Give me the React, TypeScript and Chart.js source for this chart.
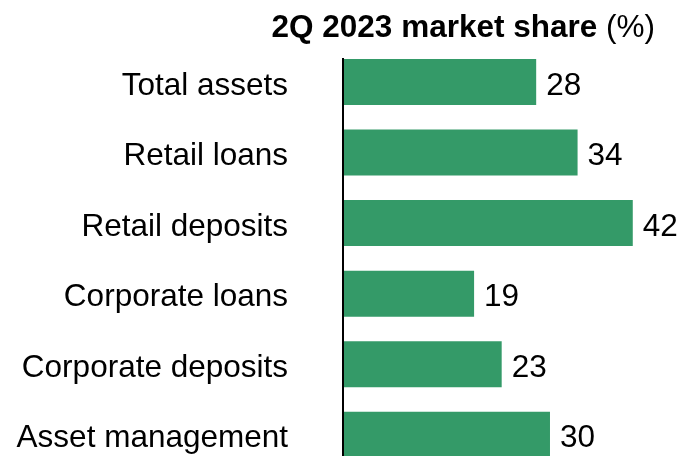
import React, { useEffect, useRef } from "react";
import { Chart, registerables } from "chart.js";

Chart.register(...registerables);

const categories = [
  "Total assets",
  "Retail loans",
  "Retail deposits",
  "Corporate loans",
  "Corporate deposits",
  "Asset management",
];
const shares = [28, 34, 42, 19, 23, 30];
const titleBold = "2Q 2023 market share";
const titleUnit = " (%)";

const FONT = "'Liberation Sans', Arial, sans-serif";
const FS = 31.5;
const BAR_COLOR = "#349a68";

export default function App() {
  const ref = useRef<HTMLCanvasElement | null>(null);

  useEffect(() => {
    if (!ref.current) return;
    const overlay = {
      id: "overlay",
      afterDatasetsDraw(chart: any) {
        const ctx = chart.ctx;
        const area = chart.chartArea;
        const yScale = chart.scales.y;
        ctx.save();
        // axis line
        ctx.strokeStyle = "#000";
        ctx.lineWidth = 2;
        ctx.beginPath();
        ctx.moveTo(area.left, 58);
        ctx.lineTo(area.left, chart.height);
        ctx.stroke();
        ctx.fillStyle = "#000";
        ctx.font = `${FS}px ${FONT}`;
        ctx.textBaseline = "alphabetic";
        // category labels
        ctx.textAlign = "right";
        categories.forEach((c, i) => {
          const y = yScale.getPixelForValue(i);
          ctx.fillText(c, area.left - 55, y + 12.5);
        });
        // value labels
        ctx.textAlign = "left";
        const meta = chart.getDatasetMeta(0);
        meta.data.forEach((bar: any, i: number) => {
          ctx.fillText(String(shares[i]), bar.x + 10, bar.y + 12.5);
        });
        // title
        ctx.font = `${FS}px ${FONT}`;
        const wUnit = ctx.measureText(titleUnit).width;
        const right = 655;
        ctx.textAlign = "right";
        ctx.fillText(titleUnit, right, 37);
        ctx.font = `bold ${FS}px ${FONT}`;
        ctx.fillText(titleBold, right - wUnit, 37);
        ctx.restore();
      },
    };

    const chart = new Chart(ref.current, {
      type: "bar",
      data: {
        labels: categories,
        datasets: [
          {
            data: shares,
            backgroundColor: BAR_COLOR,
            borderWidth: 0,
            categoryPercentage: 1,
            barPercentage: 0.652,
          },
        ],
      },
      options: {
        indexAxis: "y",
        responsive: false,
        animation: false,
        devicePixelRatio: 1,
        layout: { padding: { top: 46.75, right: 0, bottom: 0, left: 0 } },
        plugins: {
          legend: { display: false },
          tooltip: { enabled: false },
          title: { display: false },
        },
        scales: {
          x: {
            display: false,
            min: 0,
            max: 48.7,
          },
          y: {
            grid: { display: false, drawTicks: false },
            border: { display: false },
            ticks: { display: false },
            afterFit(scale: any) {
              scale.width = 343;
              scale.paddingTop = 0;
              scale.paddingBottom = 0;
            },
          },
        },
      },
      plugins: [overlay],
    });
    return () => chart.destroy();
  }, []);

  return (
    <div style={{ position: "absolute", top: 0, left: 0, width: 679, height: 470 }}>
      <canvas ref={ref} width={679} height={470} style={{ display: "block" }} />
    </div>
  );
}
